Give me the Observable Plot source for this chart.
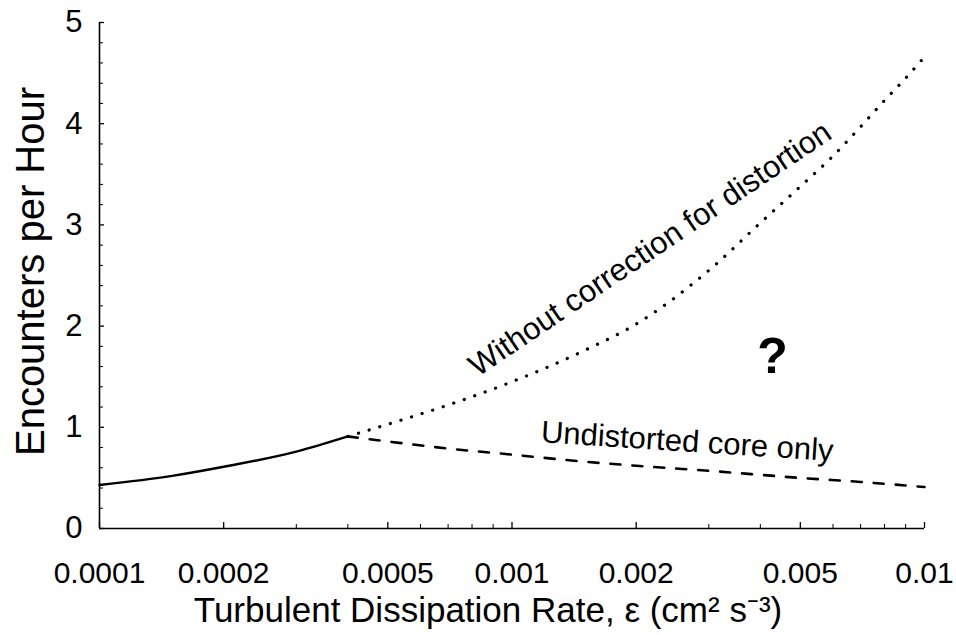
<!DOCTYPE html>
<html><head><meta charset="utf-8">
<script src="https://cdn.jsdelivr.net/npm/d3@7"></script>
<script src="https://cdn.jsdelivr.net/npm/@observablehq/plot@0.6"></script>
<style>
body{margin:0;background:#fff}
svg{font-family:"Liberation Sans",Arial,Helvetica,sans-serif}
</style>
</head><body><div id="chart"></div>
<script>
// Solid: measured range
const solidX = [0.0001, 0.00015, 0.0002, 0.0003, 0.0004];
const solidY = [0.43, 0.52, 0.61, 0.76, 0.91];
// Dotted: without correction for distortion
const dotX = [0.0004, 0.0005, 0.0007, 0.001, 0.0015, 0.002, 0.003, 0.004, 0.005, 0.006, 0.007, 0.008, 0.009, 0.01];
const dotY = [0.91, 1.03, 1.22, 1.45, 1.76, 2.02, 2.55, 3.02, 3.38, 3.68, 3.97, 4.23, 4.45, 4.66];
// Dashed: undistorted core only
const dashX = [0.0004, 0.0005, 0.0007, 0.001, 0.0015, 0.002, 0.003, 0.005, 0.007, 0.01];
const dashY = [0.91, 0.86, 0.79, 0.73, 0.66, 0.62, 0.57, 0.50, 0.46, 0.41];

const xMajorTicks = [0.0001, 0.0002, 0.0005, 0.001, 0.002, 0.005, 0.01];
const xTickLabels = ["0.0001", "0.0002", "0.0005", "0.001", "0.002", "0.005", "0.01"];
const xMinorTicks = [0.0003, 0.0004, 0.0006, 0.0007, 0.0008, 0.0009, 0.003, 0.004, 0.006, 0.007, 0.008, 0.009];
const yMajorTicks = [0, 1, 2, 3, 4, 5];
const yTickLabels = ["0", "1", "2", "3", "4", "5"];
const yMinorTicks = [0.2, 0.4, 0.6, 0.8, 1.2, 1.4, 1.6, 1.8, 2.2, 2.4, 2.6, 2.8, 3.2, 3.4, 3.6, 3.8, 4.2, 4.4, 4.6, 4.8];

const xTitle = "Turbulent Dissipation Rate, ε (cm² s⁻³)";
const yTitle = "Encounters per Hour";

const curveNotes = [
  {x: 0.00223, y: 2.68, text: "Without correction for distortion", rotate: -34},
  {x: 0.00265, y: 0.76, text: "Undistorted core only", rotate: 3.7}
];
const questionNote = [{x: 0.00428, y: 1.54, text: "?"}];

const toRows = (xs, ys) => xs.map((x, i) => ({x, y: ys[i]}));
const solid = toRows(solidX, solidY);
const dotted = toRows(dotX, dotY);
const dashed = toRows(dashX, dashY);
const xLabelMap = new Map(xMajorTicks.map((t, i) => [t, xTickLabels[i]]));
const yLabelMap = new Map(yMajorTicks.map((t, i) => [t, yTickLabels[i]]));

const chart = Plot.plot({
  width: 956,
  height: 635,
  marginLeft: 99,
  marginRight: 32,
  marginTop: 22,
  marginBottom: 107,
  style: {background: "#fff", color: "#000"},
  x: {type: "log", domain: [0.0001, 0.01], axis: null},
  y: {domain: [0, 5], axis: null},
  marks: [
    // axis lines
    Plot.ruleY([0], {stroke: "#000", strokeWidth: 1.6}),
    Plot.ruleX([0.0001], {stroke: "#000", strokeWidth: 1.6}),
    // inward ticks
    Plot.axisX(xMajorTicks, {tickSize: -6, text: null, label: null, strokeWidth: 1.3}),
    Plot.axisX(xMinorTicks, {tickSize: -4, text: null, label: null, strokeWidth: 1}),
    Plot.axisY(yMajorTicks, {tickSize: -5, text: null, label: null, strokeWidth: 1.3}),
    Plot.axisY(yMinorTicks, {tickSize: -4, text: null, label: null, strokeWidth: 1}),
    // tick labels
    Plot.axisX(xMajorTicks, {tickSize: 0, tickPadding: 33, fontSize: 30, tickFormat: d => xLabelMap.get(d), label: null, fill: "#000"}),
    Plot.axisY(yMajorTicks, {tickSize: 0, tickPadding: 17, fontSize: 31, tickFormat: d => yLabelMap.get(d), label: null, fill: "#000"}),
    // curves
    Plot.line(solid, {x: "x", y: "y", stroke: "#000", strokeWidth: 2.4, curve: "monotone-x"}),
    Plot.line(dotted, {x: "x", y: "y", stroke: "#000", strokeWidth: 3.2, strokeDasharray: "0.1,11", strokeLinecap: "round", curve: "monotone-x"}),
    Plot.line(dashed, {x: "x", y: "y", stroke: "#000", strokeWidth: 2.6, strokeDasharray: "10,12", curve: "monotone-x"}),
    // annotations
    Plot.text(curveNotes, {x: "x", y: "y", text: "text", rotate: "rotate", fontSize: 31, lineAnchor: "bottom", fill: "#000", textAnchor: "middle"}),
    Plot.text(questionNote, {x: "x", y: "y", text: "text", fontSize: 50, fontWeight: "bold", lineAnchor: "bottom", fill: "#000", textAnchor: "middle"}),
    // titles
    Plot.text([xTitle], {frameAnchor: "bottom", textAnchor: "middle", dx: -24, dy: 93, fontSize: 35, lineAnchor: "bottom", fill: "#000"}),
    Plot.text([yTitle], {frameAnchor: "left", textAnchor: "middle", dx: -56, dy: -4, rotate: -90, fontSize: 40, lineAnchor: "bottom", fill: "#000"})
  ]
});
document.getElementById("chart").appendChild(chart);
</script>
</body></html>
